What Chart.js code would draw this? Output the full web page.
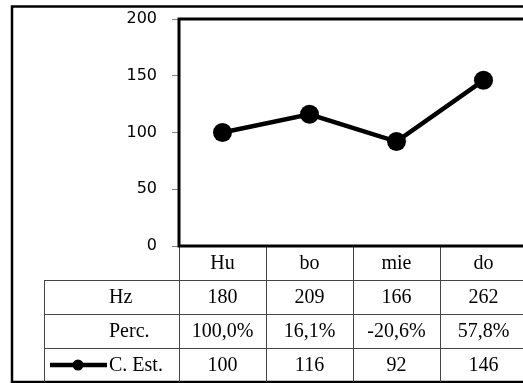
<!DOCTYPE html>
<html>
<head>
<meta charset="utf-8">
<script src="https://cdn.jsdelivr.net/npm/chart.js@4/dist/chart.umd.min.js"></script>
<style>
  html, body { margin: 0; padding: 0; background: #fff; overflow: hidden; width: 523px; height: 383px; }
  canvas { display: block; }
</style>
</head>
<body>
<canvas id="myChart" width="540" height="383"></canvas>
<script>
// Data
const categories = ['Hu', 'bo', 'mie', 'do'];
const hzValues = [180, 209, 166, 262];
const percLabels = ['100,0%', '16,1%', '-20,6%', '57,8%'];
const estValues = [100, 116, 92, 146];
const rowLabels = ['Hz', 'Perc.', 'C. Est.'];

const serif = '20px "Liberation Serif", serif';

// Frame, plot box and data table below the plot
const tablePlugin = {
    id: 'dataTable',
    afterDraw(chart) {
        const ctx = chart.ctx;
        const a = chart.chartArea;
        const x = chart.scales.x;
        const colW = (a.right - a.left) / categories.length;
        const bottom = 382;
        const rowH = (bottom - a.bottom) / 4;
        const labelLeft = 44;

        ctx.save();

        // outer frame
        ctx.strokeStyle = '#000';
        ctx.lineWidth = 2.5;
        ctx.strokeRect(12, 6.5, chart.width, bottom - 6.5);

        // thin table grid
        ctx.strokeStyle = '#444';
        ctx.lineWidth = 1;
        ctx.beginPath();
        for (let i = 0; i <= categories.length; i++) {
            const gx = Math.round(a.left + i * colW) + 0.5;
            ctx.moveTo(gx, a.bottom);
            ctx.lineTo(gx, bottom);
        }
        ctx.moveTo(labelLeft + 0.5, a.bottom + rowH);
        ctx.lineTo(labelLeft + 0.5, bottom);
        for (let r = 1; r < 4; r++) {
            const gy = Math.round(a.bottom + r * rowH) + 0.5;
            ctx.moveTo(labelLeft, gy);
            ctx.lineTo(chart.width, gy);
        }
        ctx.stroke();

        // plot box
        ctx.strokeStyle = '#000';
        ctx.lineWidth = 3;
        ctx.strokeRect(a.left, a.top, a.right - a.left, a.bottom - a.top);

        // texts
        ctx.fillStyle = '#000';
        ctx.font = serif;
        ctx.textBaseline = 'middle';
        ctx.textAlign = 'center';
        const rows = [categories, hzValues, percLabels, estValues];
        rows.forEach((row, r) => {
            const cy = a.bottom + (r + 0.5) * rowH + 1;
            row.forEach((v, i) => {
                ctx.fillText(String(v), x.getPixelForValue(i), cy);
            });
        });
        ctx.textAlign = 'left';
        rowLabels.forEach((t, r) => {
            const cy = a.bottom + (r + 1.5) * rowH + 1;
            ctx.fillText(t, 109, cy);
        });

        // legend key
        const ky = a.bottom + 3.5 * rowH;
        ctx.strokeStyle = '#000';
        ctx.lineWidth = 4.5;
        ctx.beginPath();
        ctx.moveTo(50, ky);
        ctx.lineTo(107, ky);
        ctx.stroke();
        ctx.beginPath();
        ctx.arc(78, ky, 5.5, 0, Math.PI * 2);
        ctx.fill();

        ctx.restore();
    }
};

const ctx = document.getElementById('myChart').getContext('2d');
const myChart = new Chart(ctx, {
    type: 'line',
    data: {
        labels: categories,
        datasets: [{
            label: 'C. Est.',
            data: estValues,
            borderColor: '#000',
            backgroundColor: '#000',
            borderWidth: 4.5,
            pointRadius: 9.5,
            pointBackgroundColor: '#000',
            pointBorderWidth: 0,
            tension: 0,
            fill: false
        }]
    },
    options: {
        responsive: false,
        devicePixelRatio: 1,
        animation: false,
        layout: {
            padding: { top: 19, right: 13, bottom: 137, left: 0 }
        },
        scales: {
            x: {
                type: 'category',
                offset: true,
                display: false
            },
            y: {
                min: 0,
                max: 200,
                afterFit(scale) {
                    scale.width = 179;
                    scale.paddingTop = 0;
                    scale.paddingBottom = 0;
                },
                border: { display: false },
                grid: {
                    drawOnChartArea: false,
                    drawTicks: true,
                    tickLength: 7,
                    color: '#808080'
                },
                ticks: {
                    stepSize: 50,
                    padding: 15,
                    color: '#000',
                    font: { family: '"DejaVu Sans", sans-serif', size: 16 }
                }
            }
        },
        plugins: {
            legend: { display: false },
            tooltip: { enabled: false }
        }
    },
    plugins: [tablePlugin]
});
</script>
</body>
</html>
